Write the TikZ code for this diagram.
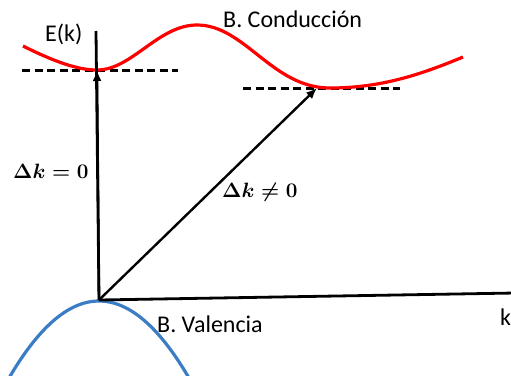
\documentclass[tikz,border=0pt]{standalone}
\usepackage{amsmath,amssymb}
\usepackage{fontspec}
\setmainfont{Carlito}
\usepackage{tikz}
\usetikzlibrary{arrows.meta,positioning,calc}
\definecolor{cRed}{HTML}{FF0000}
\definecolor{cBlue}{HTML}{3A7DC4}
\tikzset{
  ax/.style   = {draw=black, line width=2.8pt},
  ar/.style   = {-{Latex[length=11pt,width=9pt]}, draw=black, line width=2.4pt},
  cb/.style   = {draw=cRed, line width=3.2pt},
  vb/.style   = {draw=cBlue, line width=3.2pt},
  lvl/.style  = {draw=black, line width=3pt, dash pattern=on 8pt off 4.5pt},
  lbl/.style  = {inner sep=0pt, anchor=base west, font=\fontsize{24}{28}\selectfont},
  mlbl/.style = {inner sep=0pt, anchor=base west, font=\fontsize{22}{26}\selectfont},
}
\begin{document}
\begin{tikzpicture}[x=1pt, y=-1pt]
  \useasboundingbox (0,0) rectangle (511,375);
  % band edges and axes
  \coordinate (O)    at (99,300);
  \coordinate (ytop) at (96,31);
  \coordinate (xend) at (515,293);
  \coordinate (cmin1) at (97,70);
  \coordinate (cmin2) at (317,88);
  % dashed levels
  \coordinate (l1a) at (22,70);   \coordinate (l1b) at (178,70);
  \coordinate (l2a) at (243,88);  \coordinate (l2b) at (400,88);
  \draw[lvl] (l1a) -- (l1b);
  \draw[lvl] (l2a) -- (l2b);
  % conduction band
  \draw[cb] (23,46) .. controls (55,62) and (78,70) .. (97,70)
                    .. controls (132,70) and (158,25) .. (197,25)
                    .. controls (245,25) and (272,88) .. (330,88)
                    .. controls (380,88) and (420,75) .. (463,57);
  % valence band
  \draw[vb] plot[domain=-90:92, smooth, samples=40] ({99+\x}, {301+0.0095*\x*\x});
  % axes
  \draw[ax] (O) -- (ytop);
  \draw[ax] (O) -- (xend);
  % transitions
  \draw[ar] (O) -- (cmin1);
  \draw[ar] (O) -- (cmin2);
  % labels
  \node[lbl] (Ek)   at (45,41)   {E(k)};
  \node[lbl] (kx)   at (500,325) {k};
  \node[lbl] (bc)   at (223,27)  {B. Conducción};
  \node[lbl] (bv)   at (157,332) {B. Valencia};
  \node[mlbl] (dk0) at (13,178)  {$\boldsymbol{\Delta k = 0}$};
  \node[mlbl] (dk1) at (222,197) {$\boldsymbol{\Delta k \neq 0}$};
\end{tikzpicture}
\end{document}
